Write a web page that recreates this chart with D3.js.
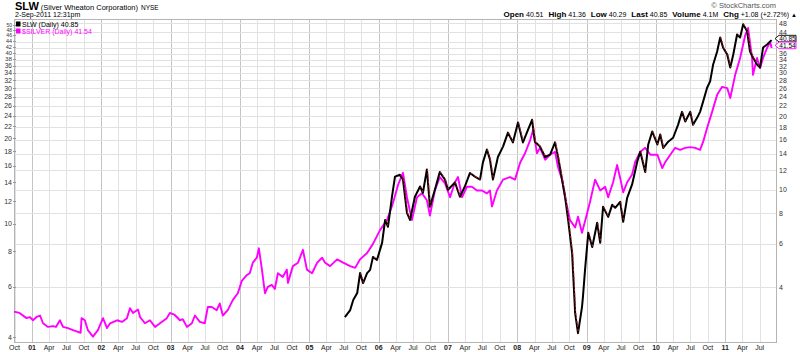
<!DOCTYPE html>
<html><head><meta charset="utf-8">
<script src="https://cdn.jsdelivr.net/npm/d3@7"></script>
<style>body{margin:0;background:#fff}svg{display:block;font-family:"Liberation Sans",Arial,sans-serif}</style>
</head><body><svg id="c" width="800" height="352"></svg>
<script>
// ---- data ----
const silverDates = ["2000-09-28","2000-10-27","2000-12-03","2000-12-21","2001-01-06","2001-01-26","2001-02-12","2001-02-28","2001-03-26","2001-04-21","2001-05-07","2001-05-28","2001-06-13","2001-07-09","2001-08-05","2001-08-31","2001-09-14","2001-09-19","2001-10-06","2001-10-22","2001-11-18","2001-12-14","2002-01-10","2002-01-31","2002-02-16","2002-03-25","2002-04-20","2002-05-16","2002-06-01","2002-06-17","2002-07-13","2002-07-24","2002-08-19","2002-09-14","2002-10-11","2002-11-06","2002-12-12","2002-12-28","2003-01-23","2003-02-19","2003-03-06","2003-03-28","2003-04-23","2003-05-09","2003-06-04","2003-06-30","2003-07-16","2003-08-06","2003-09-01","2003-09-17","2003-10-03","2003-10-29","2003-11-25","2003-12-21","2004-01-11","2004-02-06","2004-02-22","2004-03-09","2004-03-30","2004-04-10","2004-04-26","2004-05-12","2004-05-27","2004-06-17","2004-07-03","2004-07-19","2004-08-14","2004-09-04","2004-09-10","2004-10-06","2004-11-02","2004-11-28","2004-12-19","2005-01-15","2005-02-11","2005-03-09","2005-03-25","2005-04-20","2005-05-27","2005-06-28","2005-08-04","2005-08-30","2005-09-25","2005-11-01","2005-12-02","2006-01-08","2006-02-14","2006-03-17","2006-04-13","2006-05-09","2006-05-30","2006-06-25","2006-07-22","2006-08-17","2006-09-12","2006-09-28","2006-10-24","2006-11-19","2006-12-16","2007-01-12","2007-02-07","2007-02-23","2007-03-16","2007-04-11","2007-05-07","2007-06-03","2007-06-29","2007-07-25","2007-08-10","2007-08-21","2007-09-16","2007-10-18","2007-11-24","2007-12-20","2008-01-16","2008-02-11","2008-03-09","2008-03-25","2008-04-14","2008-04-30","2008-05-27","2008-06-22","2008-07-18","2008-08-03","2008-08-24","2008-09-09","2008-10-05","2008-11-01","2008-11-16","2008-12-07","2009-01-03","2009-01-19","2009-02-14","2009-03-13","2009-04-08","2009-04-24","2009-05-20","2009-06-10","2009-06-26","2009-07-12","2009-08-02","2009-08-28","2009-09-13","2009-10-10","2009-11-05","2009-12-02","2010-01-08","2010-02-03","2010-02-19","2010-03-17","2010-04-12","2010-05-08","2010-06-04","2010-06-30","2010-07-26","2010-08-21","2010-09-06","2010-09-27","2010-10-23","2010-11-19","2010-12-15","2011-01-11","2011-01-27","2011-02-22","2011-03-20","2011-04-16","2011-05-01","2011-05-22","2011-05-27","2011-06-17","2011-07-03","2011-07-19","2011-08-09","2011-08-25","2011-09-02"];
const silverValues = [4.91,4.86,4.66,4.70,4.58,4.71,4.76,4.47,4.34,4.37,4.34,4.58,4.34,4.30,4.23,4.17,4.14,4.66,4.58,4.23,4.01,4.23,4.66,4.30,4.47,4.58,4.52,4.66,5.05,4.86,5.00,4.70,4.47,4.58,4.34,4.47,4.66,4.86,4.78,4.58,4.62,4.34,4.47,4.76,4.52,4.47,5.10,5.10,4.97,5.25,4.76,4.97,5.40,5.70,6.30,6.60,6.70,7.30,7.60,8.20,6.90,5.70,6.00,6.10,5.90,6.70,6.50,6.90,6.20,7.10,7.30,8.10,6.90,6.70,7.30,7.60,7.30,7.10,7.50,7.30,7.10,7.00,7.50,7.90,8.50,9.50,10.3,11.8,13.7,15.1,12.4,10.3,12.4,12.8,12.1,10.7,13.1,14.6,13.9,12.4,14.0,14.6,12.4,13.5,13.5,13.1,13.1,12.8,13.1,11.5,13.1,14.3,14.6,14.3,16.4,17.7,19.7,21.4,17.7,18.5,16.8,17.5,17.9,15.8,14.3,12.4,10.3,9.7,10.6,9.3,10.9,12.0,14.3,13.1,13.5,12.4,14.0,16.1,14.5,12.9,14.0,14.9,16.5,17.9,18.5,17.5,17.5,15.7,16.5,17.5,18.5,18.2,18.5,18.6,18.5,18.2,19.4,21.7,24.7,28.4,30.3,30.0,27.7,33.4,38.3,46.1,48.8,38.3,33.4,38.3,35.3,38.3,41.5,43.6,41.54];

const slwDates = ["2005-07-07","2005-08-04","2005-08-20","2005-09-10","2005-09-25","2005-10-11","2005-11-01","2005-11-17","2005-12-02","2005-12-23","2006-01-19","2006-02-04","2006-02-19","2006-03-12","2006-03-28","2006-04-23","2006-05-09","2006-05-30","2006-06-15","2006-07-11","2006-08-07","2006-08-22","2006-09-12","2006-09-28","2006-10-24","2006-11-19","2006-12-16","2007-01-01","2007-02-07","2007-03-05","2007-03-31","2007-04-27","2007-05-23","2007-06-19","2007-07-04","2007-07-25","2007-08-10","2007-08-26","2007-09-21","2007-10-18","2007-11-13","2007-12-09","2008-01-05","2008-01-31","2008-02-27","2008-03-19","2008-04-03","2008-04-30","2008-05-27","2008-06-22","2008-07-18","2008-08-03","2008-08-24","2008-09-09","2008-09-25","2008-10-16","2008-11-01","2008-11-16","2008-12-07","2008-12-12","2008-12-23","2009-01-09","2009-01-30","2009-02-25","2009-03-13","2009-03-28","2009-04-24","2009-05-15","2009-05-31","2009-06-26","2009-07-12","2009-08-02","2009-08-28","2009-09-24","2009-10-10","2009-11-05","2009-11-21","2009-12-12","2010-01-08","2010-01-23","2010-02-08","2010-03-06","2010-04-01","2010-04-27","2010-05-18","2010-06-04","2010-06-30","2010-07-15","2010-08-06","2010-08-21","2010-09-06","2010-09-27","2010-10-13","2010-10-29","2010-11-19","2010-12-05","2010-12-20","2011-01-11","2011-01-27","2011-02-12","2011-03-04","2011-03-20","2011-04-05","2011-04-26","2011-05-11","2011-05-27","2011-06-17","2011-07-03","2011-07-19","2011-08-09","2011-08-25","2011-09-02"];
const slwValues = [3.01,3.22,3.54,3.78,4.56,4.15,4.56,4.70,5.31,5.16,6.06,7.52,7.05,9.35,11.3,11.5,11.0,8.04,7.52,9.35,10.3,9.71,12.1,8.51,9.99,11.8,11.0,9.99,10.7,9.35,10.3,11.7,11.3,11.0,12.9,14.6,13.3,11.0,13.6,15.0,17.1,15.6,18.8,15.6,17.6,19.3,15.7,15.0,13.6,13.9,15.6,13.6,11.0,9.35,7.52,5.5,3.13,2.59,3.31,3.64,4.70,6.66,5.83,7.32,6.06,8.51,7.74,8.67,8.43,8.92,7.39,9.26,10.5,13.0,14.3,11.8,15.3,17.3,15.3,16.8,14.8,15.7,16.3,18.4,20.8,19.0,20.8,18.4,19.7,20.8,22.9,26.1,27.7,32.5,36.7,41.9,38.1,35.7,31.6,35.7,43.1,41.9,47.4,44.4,36.7,34.7,32.5,31.6,38.1,39.2,40.3,40.85];

const leftTicks = [4,6,8,10,12,14,16,18,20,22,24,26,28,30,32,34,36,38,40,42,44,46,48,50];
const rightTicks = [4,6,8,10,12,14,16,18,20,22,24,26,28,30,32,34,36,38,40,44,48];
const monthNames = ["Jan","Feb","Mar","Apr","May","Jun","Jul","Aug","Sep","Oct","Nov","Dec"];

// ---- setup ----
const svg = d3.select("#c");
const parse = d3.timeParse("%Y-%m-%d");
const silver = silverDates.map((d,i)=>({date:parse(d), v:silverValues[i]}));
const slw = slwDates.map((d,i)=>({date:parse(d), v:slwValues[i]}));

const L = 14, R = 776, T = 19, B = 342;
const x = d3.scaleTime().domain([parse("2000-09-28"), parse("2011-09-25")]).range([L, R]);
const yL = d3.scaleLog().domain([4, 50]).range([337, 25]);
const yR = d3.scaleLog().domain([4, 48]).range([287, 23]);

// header
const h = svg.append("g");
const t1 = h.append("text").attr("x", 15).attr("y", 9.5).attr("fill", "#000");
t1.append("tspan").attr("font-size", 11).attr("font-weight", "bold").text("SLW");
t1.append("tspan").attr("font-size", 7.5).attr("dx", 2).text("(Silver Wheaton Corporation)");
t1.append("tspan").attr("font-size", 6.5).attr("dx", 3).text("NYSE");
h.append("text").attr("x", 15).attr("y", 17).attr("font-size", 7).text("2-Sep-2011 12:31pm");
h.append("text").attr("x", 776).attr("y", 8).attr("font-size", 7.5).attr("text-anchor", "end").attr("fill", "#555").text("\u00a9 StockCharts.com");
const ohlc = [["Open","40.51"],["High","41.36"],["Low","40.29"],["Last","40.85"],["Volume","4.1M"],["Chg","+1.08 (+2.72%)"]];
const t2 = h.append("text").attr("x", 797).attr("y", 17).attr("text-anchor", "end");
ohlc.forEach(([k,v],i)=>{
  t2.append("tspan").attr("font-size", 8).attr("font-weight","bold").attr("dx", i?5:0).text(k);
  t2.append("tspan").attr("font-size", 7).attr("dx", 2).text(v);
});
t2.append("tspan").attr("font-size", 6).attr("dx", 2).text("\u25b2");

// last value box positions
const lastSlw = slw[slw.length-1], lastSil = silver[silver.length-1];
const bh = 6.6;
const yb1 = yR(lastSlw.v) - 1.5;
const yb2 = Math.max(yL(lastSil.v) - 2.5, yb1 + bh);

// grid
const quarters = d3.timeMonth.every(3).range(parse("2000-10-01"), parse("2011-09-25"));
svg.append("g").selectAll("line").data(quarters).join("line")
  .attr("x1", d=>Math.round(x(d))+0.5).attr("x2", d=>Math.round(x(d))+0.5)
  .attr("y1", T).attr("y2", B)
  .attr("stroke", d=>d.getMonth()===0 ? "#c4c4c4" : "#e2e2e2").attr("stroke-width", 1);
svg.append("g").selectAll("line").data(rightTicks).join("line")
  .attr("x1", L).attr("x2", R)
  .attr("y1", d=>Math.round(yR(d))+0.5).attr("y2", d=>Math.round(yR(d))+0.5)
  .attr("stroke", "#e2e2e2");

// frame
svg.append("rect").attr("x", L+0.5).attr("y", T+0.5).attr("width", R-L).attr("height", B-T)
  .attr("fill", "none").attr("stroke", "#b4b4b4");

// axes labels (left: font shrinks where ticks crowd together)
const leftSize = d => {
  const i = leftTicks.indexOf(d);
  const gaps = [];
  if (i > 0) gaps.push(yL(leftTicks[i-1]) - yL(d));
  if (i < leftTicks.length-1) gaps.push(yL(d) - yL(leftTicks[i+1]));
  return Math.min(7, Math.min(...gaps) * 0.98);
};
svg.append("g").selectAll("text").data(leftTicks).join("text")
  .attr("x", 12).attr("y", d=>yL(d)+leftSize(d)*0.36).attr("text-anchor","end")
  .attr("font-size", d=>leftSize(d)).attr("fill","#333").text(d=>d);
svg.append("g").selectAll("line").data(leftTicks).join("line")
  .attr("x1", L-1).attr("x2", L+2).attr("y1", d=>Math.round(yL(d))+0.5).attr("y2", d=>Math.round(yL(d))+0.5).attr("stroke","#999");
const visibleRight = rightTicks.filter(d=>{ const yy = yR(d); return yy < yb1 - bh/2 - 3 || yy > yb2 + bh/2 + 3; });
svg.append("g").selectAll("text").data(visibleRight).join("text")
  .attr("x", 779).attr("y", d=>yR(d)+2.5).attr("font-size", 7).attr("fill","#333").text(d=>d);
svg.append("g").selectAll("text").data(quarters).join("text")
  .attr("x", d=>x(d)).attr("y", 349.5).attr("text-anchor","middle")
  .attr("font-size", 7).attr("font-weight", d=>d.getMonth()===0 ? "bold":"normal").attr("fill","#222")
  .text(d=>d.getMonth()===0 ? d3.timeFormat("%y")(d) : monthNames[d.getMonth()]);

// series
const plot = svg.append("g");
plot.append("path").datum(silver)
  .attr("d", d3.line().x(d=>x(d.date)).y(d=>yL(d.v)))
  .attr("fill","none").attr("stroke","#ff00ff").attr("stroke-width",1.9).attr("stroke-linejoin","round");
plot.append("path").datum(slw)
  .attr("d", d3.line().x(d=>x(d.date)).y(d=>yR(d.v)))
  .attr("fill","none").attr("stroke","#000").attr("stroke-width",2).attr("stroke-linejoin","round");
const downs = slw.slice(1).map((d,i)=>[slw[i], d]).filter(p=>p[1].v < p[0].v);
plot.append("g").selectAll("line").data(downs).join("line")
  .attr("x1", p=>x(p[0].date)+0.6).attr("y1", p=>yR(p[0].v))
  .attr("x2", p=>x(p[1].date)+0.6).attr("y2", p=>yR(p[1].v))
  .attr("stroke","#e0202a").attr("stroke-width",0.9).attr("stroke-dasharray","2,2");

// legend
const lg = svg.append("g");
lg.append("rect").attr("x",16).attr("y",21.5).attr("width",4.5).attr("height",5).attr("fill","#000");
lg.append("text").attr("x",22).attr("y",26.5).attr("font-size",7).attr("fill","#000").text("SLW (Daily) 40.85");
lg.append("rect").attr("x",16).attr("y",28.5).attr("width",4.5).attr("height",5).attr("fill","#ff00ff");
lg.append("text").attr("x",22).attr("y",33.5).attr("font-size",7).attr("fill","#ff00ff").text("$SILVER (Daily) 41.54");

// last value boxes
function box(yc, label, col){
  const g = svg.append("g");
  const hh = bh/2;
  g.append("path").attr("d", `M${R-1},${yc} L${R+3},${yc-hh} L${R+20},${yc-hh} L${R+20},${yc+hh} L${R+3},${yc+hh} Z`)
    .attr("fill","#fff").attr("stroke",col).attr("stroke-width",0.9);
  g.append("text").attr("x",R+11.5).attr("y",yc+2.3).attr("text-anchor","middle").attr("font-size",6.5).attr("fill","#000").text(label);
}
box(yb1, "40.85", "#000");
box(yb2, "41.54", "#ff00ff");
</script></body></html>
